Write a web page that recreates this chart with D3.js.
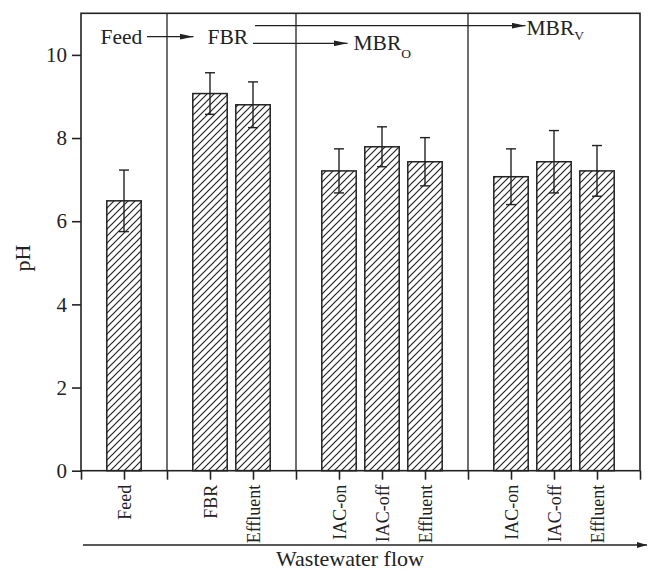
<!DOCTYPE html>
<html>
<head>
<meta charset="utf-8">
<script src="https://cdn.jsdelivr.net/npm/d3@7"></script>
<style>
  html, body { margin: 0; padding: 0; background: #fff; }
  svg { display: block; font-family: "Liberation Serif", "Times New Roman", serif; }
</style>
</head>
<body>
<svg id="chart" width="648" height="572"></svg>
<script>
// ---- data ----
const groups = ["Feed", "FBR", "MBRO", "MBRV"];
const barGroup = [0, 1, 1, 2, 2, 2, 3, 3, 3];
const categories = ["Feed", "FBR", "Effluent", "IAC-on", "IAC-off", "Effluent", "IAC-on", "IAC-off", "Effluent"];
const pHValues = [6.49, 9.07, 8.80, 7.21, 7.79, 7.43, 7.07, 7.43, 7.21];
const pHErrors = [0.74, 0.50, 0.55, 0.53, 0.48, 0.58, 0.67, 0.75, 0.61];
const yTicks = [0, 2, 4, 6, 8, 10];

// ---- slot layout derived from group structure ----
const slots = [];
const separators = [];
let s = 0;
groups.forEach((g, gi) => {
  if (gi > 0) separators.push(s);
  s += 1;
  barGroup.forEach((bg, i) => { if (bg === gi) { slots[i] = s; s += 1; } });
});
const nSlots = s;

const svg = d3.select("#chart");
const W = 648, H = 572;
const margin = { left: 81, right: 8, top: 13.3, bottom: 101.3 };
const x = d3.scaleLinear().domain([0, nSlots]).range([margin.left, W - margin.right]);
const y = d3.scaleLinear().domain([0, 11]).range([H - margin.bottom, margin.top]);
const ink = "#222";

// hatch pattern
const defs = svg.append("defs");
const pat = defs.append("pattern").attr("id", "hatch")
  .attr("patternUnits", "userSpaceOnUse").attr("width", 7).attr("height", 7);
pat.append("path").attr("d", "M-1,1 l2,-2 M0,7 l7,-7 M6,8 l2,-2")
  .attr("stroke", ink).attr("stroke-width", 1.2).attr("fill", "none");

// separators
svg.append("g").selectAll("line").data(separators).join("line")
  .attr("x1", d => x(d)).attr("x2", d => x(d))
  .attr("y1", y(11)).attr("y2", y(0))
  .attr("stroke", ink).attr("stroke-width", 1.3);

// bars
const bw = x(0.8) - x(0);
svg.append("g").selectAll("rect").data(pHValues).join("rect")
  .attr("x", (d, i) => x(slots[i]) - bw / 2)
  .attr("y", d => y(d))
  .attr("width", bw)
  .attr("height", d => y(0) - y(d))
  .attr("fill", "url(#hatch)")
  .attr("stroke", ink).attr("stroke-width", 1.5);

// error bars
const cap = 5;
const eg = svg.append("g").attr("stroke", ink).attr("stroke-width", 1.4);
pHValues.forEach((v, i) => {
  const cx = x(slots[i]);
  eg.append("line").attr("x1", cx).attr("x2", cx).attr("y1", y(v - pHErrors[i])).attr("y2", y(v + pHErrors[i]));
  eg.append("line").attr("x1", cx - cap).attr("x2", cx + cap).attr("y1", y(v + pHErrors[i])).attr("y2", y(v + pHErrors[i]));
  eg.append("line").attr("x1", cx - cap).attr("x2", cx + cap).attr("y1", y(v - pHErrors[i])).attr("y2", y(v - pHErrors[i]));
});

// axes
const yAxis = svg.append("g").attr("transform", `translate(${margin.left},0)`)
  .call(d3.axisLeft(y).tickValues(yTicks).tickSize(9).tickPadding(5));
yAxis.select(".domain").remove();
yAxis.selectAll("line").attr("stroke", ink).attr("stroke-width", 1.6);
yAxis.selectAll("text").attr("font-size", 21).attr("fill", ink).attr("font-family", "Liberation Serif");

const xAxis = svg.append("g").attr("transform", `translate(0,${y(0)})`)
  .call(d3.axisBottom(x).tickValues(d3.range(0, nSlots + 1)).tickSize(9).tickFormat(""));
xAxis.select(".domain").remove();
xAxis.selectAll("line").attr("stroke", ink).attr("stroke-width", 1.6);

// x labels (rotated)
svg.append("g").selectAll("text").data(categories).join("text")
  .attr("transform", (d, i) => `translate(${x(slots[i])},${y(0) + 14}) rotate(-90)`)
  .attr("text-anchor", "end")
  .attr("dy", "0.4em")
  .attr("font-size", 18)
  .attr("fill", ink)
  .text(d => d);

// frame
svg.append("rect")
  .attr("x", x(0)).attr("y", y(11))
  .attr("width", x(nSlots) - x(0)).attr("height", y(0) - y(11))
  .attr("fill", "none").attr("stroke", ink).attr("stroke-width", 1.6);

// y label
svg.append("text")
  .attr("transform", `translate(22,258) rotate(-90)`)
  .attr("text-anchor", "middle").attr("dy", "0.35em")
  .attr("font-size", 22).attr("fill", ink).text("pH");

// arrow markers
defs.append("marker").attr("id", "arr").attr("viewBox", "0 0 14 6")
  .attr("refX", 14).attr("refY", 3).attr("markerWidth", 14).attr("markerHeight", 6)
  .attr("markerUnits", "userSpaceOnUse").attr("orient", "auto")
  .append("path").attr("d", "M0,0 L14,3 L0,6 Z").attr("fill", ink);
defs.append("marker").attr("id", "arr2").attr("viewBox", "0 0 10 6")
  .attr("refX", 10).attr("refY", 3).attr("markerWidth", 10).attr("markerHeight", 6)
  .attr("markerUnits", "userSpaceOnUse").attr("orient", "auto")
  .append("path").attr("d", "M0,0 L10,3 L0,6 Z").attr("fill", ink);

// flow annotations
const ann = svg.append("g").attr("font-size", 21.5).attr("fill", ink);
ann.append("text").attr("x", 100.5).attr("y", 44).text("Feed");
ann.append("text").attr("x", 207.5).attr("y", 44).text("FBR");
const mo = ann.append("text").attr("x", 353.5).attr("y", 50).text("MBR");
mo.append("tspan").attr("font-size", 13.5).attr("dy", 8).text("O");
const mv = ann.append("text").attr("x", 526.5).attr("y", 35).text("MBR");
mv.append("tspan").attr("font-size", 13.5).attr("dy", 5).text("V");

const arrows = svg.append("g").attr("stroke", ink).attr("stroke-width", 1.3).attr("fill", "none");
arrows.append("line").attr("x1", 147).attr("y1", 36.7).attr("x2", 193.5).attr("y2", 36.7).attr("marker-end", "url(#arr)");
arrows.append("line").attr("x1", 253).attr("y1", 43.3).attr("x2", 347.5).attr("y2", 43.3).attr("marker-end", "url(#arr)");
arrows.append("line").attr("x1", 255).attr("y1", 25.7).attr("x2", 525.5).attr("y2", 25.7).attr("marker-end", "url(#arr)");

// wastewater flow arrow
arrows.append("line").attr("x1", 83).attr("y1", 545).attr("x2", 647).attr("y2", 545)
  .attr("stroke-width", 1.4).attr("marker-end", "url(#arr2)");
svg.append("text").attr("x", 350).attr("y", 566).attr("text-anchor", "middle")
  .attr("font-size", 22).attr("fill", ink).text("Wastewater flow");
</script>
</body>
</html>
